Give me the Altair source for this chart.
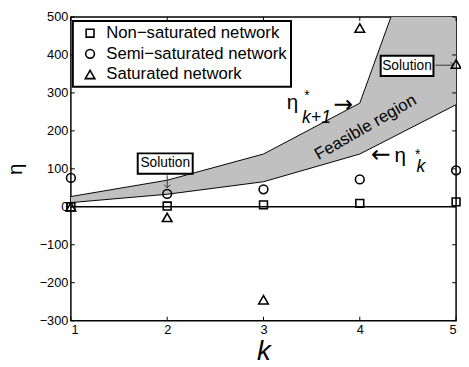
import altair as alt
import pandas as pd

# ---------------- data ----------------
k_values = [1, 2, 3, 4, 5]
non_saturated = [0, 2, 5, 9, 13]
semi_saturated = [76, 34, 46, 72, 96]
saturated = [0, -28, -245, 471, 376]
eta_k_star = [11, 33, 66, 139, 269]        # lower boundary  (eta*_k)
eta_k1_star = [27, 70, 139, 273, 975]      # upper boundary  (eta*_{k+1})

series_names = ["Non\u2212saturated network", "Semi\u2212saturated network", "Saturated network"]
series_shapes = ["square", "circle", "triangle-up"]
series_sizes = [64, 95, 130]
x_ticks = [1, 2, 3, 4, 5]
y_ticks = [-300, -200, -100, 0, 100, 200, 300, 400, 500]

# annotation anchors in data units (k, eta)
sol_box_k1 = [1.694, 4.217]
sol_box_k2 = [2.265, 4.765]
sol_box_e1 = [140.7, 398.0]
sol_box_e2 = [87.3, 344.6]
sol_text_k = [1.98, 4.49]
sol_text_e = [114, 371]
arrow_k1 = [2.0, 4.786]
arrow_k2 = [2.0, 4.975]
arrow_e1 = [83, 373]
arrow_e2 = [50, 373]

FONT = "Liberation Sans"

points = pd.DataFrame({
    "k": k_values * 3,
    "eta": non_saturated + semi_saturated + saturated,
    "series": [series_names[0]] * 5 + [series_names[1]] * 5 + [series_names[2]] * 5,
})
region = pd.DataFrame({"k": k_values, "lower": eta_k_star, "upper": eta_k1_star})

xs = alt.Scale(domain=[1, 5], nice=False, zero=False)
ys = alt.Scale(domain=[-300, 500], nice=False, zero=False)

x_axis = alt.Axis(values=x_ticks, title="k", titleFontStyle="italic", titleFontSize=28,
                  titleFontWeight="normal", titleFont=FONT, titleBaseline="alphabetic",
                  titleY=40, format="d")
y_axis = alt.Axis(values=y_ticks, title="\u03b7", titleFontSize=21, titleFontWeight="normal",
                  titleFont=FONT, titleX=-50, titleBaseline="alphabetic", format="d")


def X(field="k"):
    return alt.X(f"{field}:Q", scale=xs, axis=x_axis)


def Y(field):
    return alt.Y(f"{field}:Q", scale=ys, axis=y_axis)


area = alt.Chart(region).mark_area(color="#c0c0c0", opacity=1, clip=True).encode(
    x=X(), y=Y("lower"), y2="upper:Q")
lower_line = alt.Chart(region).mark_line(color="black", strokeWidth=1, clip=True).encode(
    x=X(), y=Y("lower"))
upper_line = alt.Chart(region).mark_line(color="black", strokeWidth=1, clip=True).encode(
    x=X(), y=Y("upper"))

zero_line = alt.Chart(pd.DataFrame({"eta": [0]})).mark_rule(color="black", strokeWidth=1.5).encode(
    y=Y("eta"))

# inward ticks (MATLAB style)
xt = pd.DataFrame({"k": x_ticks})
yt = pd.DataFrame({"eta": y_ticks})
tick_style = dict(color="black", strokeWidth=1)
ticks = [
    alt.Chart(xt).mark_rule(**tick_style).encode(x=X(), y=alt.value(309), y2=alt.value(305)),
    alt.Chart(xt).mark_rule(**tick_style).encode(x=X(), y=alt.value(0), y2=alt.value(4)),
    alt.Chart(yt).mark_rule(**tick_style).encode(y=Y("eta"), x=alt.value(0), x2=alt.value(4)),
    alt.Chart(yt).mark_rule(**tick_style).encode(y=Y("eta"), x=alt.value(392), x2=alt.value(388)),
]

legend = alt.Legend(title=None, orient="none", legendX=2, legendY=4)
pts = alt.Chart(points).mark_point(filled=False, strokeWidth=1.6, color="black",
                                   opacity=1).encode(
    x=X(), y=Y("eta"),
    shape=alt.Shape("series:O", scale=alt.Scale(domain=series_names, range=series_shapes),
                    legend=legend),
    size=alt.Size("series:O", scale=alt.Scale(domain=series_names, range=series_sizes),
                  legend=legend),
)

boxes_df = pd.DataFrame({"k1": sol_box_k1, "k2": sol_box_k2, "e1": sol_box_e1, "e2": sol_box_e2})
boxes = alt.Chart(boxes_df).mark_rect(fill="white", stroke="black", strokeWidth=2).encode(
    x=X("k1"), x2="k2:Q", y=Y("e1"), y2="e2:Q")
sol_df = pd.DataFrame({"k": sol_text_k, "eta": sol_text_e, "t": ["Solution", "Solution"]})
sol_text = alt.Chart(sol_df).mark_text(font=FONT, fontSize=14, color="black",
                                       align="center", baseline="middle").encode(
    x=X(), y=Y("eta"), text="t:N")

arr_df = pd.DataFrame({"k1": arrow_k1, "k2": arrow_k2, "e1": arrow_e1, "e2": arrow_e2})
arrows = alt.Chart(arr_df).mark_rule(color="#333333", strokeWidth=1).encode(
    x=X("k1"), x2="k2:Q", y=Y("e1"), y2="e2:Q")
head_down = alt.Chart(pd.DataFrame({"k": [arrow_k2[0]], "eta": [arrow_e2[0]]})).mark_point(
    shape="M-1,-1L0,0L1,-1", size=40, filled=False, color="#333333", strokeWidth=1,
    opacity=1).encode(x=X(), y=Y("eta"))
head_right = alt.Chart(pd.DataFrame({"k": [arrow_k2[1]], "eta": [arrow_e2[1]]})).mark_point(
    shape="M-1,-1L0,0L-1,1", size=40, filled=False, color="#333333", strokeWidth=1,
    opacity=1).encode(x=X(), y=Y("eta"))


def label(k, eta, text, size, style="normal", align="center", baseline="alphabetic", angle=0,
          font=FONT):
    kw = dict(font=font, fontSize=size, fontStyle=style, align=align, baseline=baseline,
              color="black")
    if angle:
        kw["angle"] = angle
    return alt.Chart(pd.DataFrame({"k": [k], "eta": [eta], "t": [text]})).mark_text(**kw).encode(
        x=X(), y=Y("eta"), text="t:N")


labels = [
    # eta*_{k+1} ->
    label(3.30, 257, "\u03b7", 21),
    label(3.45, 281, "*", 14),
    label(3.40, 221, "k+1", 18, style="italic", align="left"),
    label(3.83, 268, "\u2192", 24, baseline="middle", font="DejaVu Sans"),
    # <- eta*_k
    label(4.22, 135, "\u2190", 24, baseline="middle", font="DejaVu Sans"),
    label(4.42, 119, "\u03b7", 21),
    label(4.60, 127, "*", 14),
    label(4.59, 91.5, "k", 18, style="italic", align="left"),
    # region label
    label(4.06, 209, "Feasible region", 17, baseline="middle", angle=330),
]

chart = alt.layer(
    area, lower_line, upper_line, zero_line, *ticks, boxes, sol_text, arrows, head_down,
    head_right, *labels, pts
).properties(
    width=392, height=309,
    padding={"left": 64, "top": 6, "right": 5, "bottom": 44},
    autosize=alt.AutoSizeParams(type="none"),
).configure_view(
    stroke="black", strokeWidth=1.5
).configure_axis(
    domain=False, ticks=False, tickSize=0, grid=False, labelFont=FONT, labelFontSize=13,
    labelColor="black", labelPadding=3, titleColor="black"
).configure_legend(
    strokeColor="black", strokeWidth=2, fillColor="white", padding=4,
    labelFont=FONT, labelFontSize=17, labelColor="black", labelOffset=8,
    symbolStrokeWidth=1.6, symbolStrokeColor="black", symbolOpacity=1,
    symbolOffset=5, rowPadding=3, labelLimit=0
)

chart.save("out.html", embed_options={"renderer": "svg", "actions": False})
